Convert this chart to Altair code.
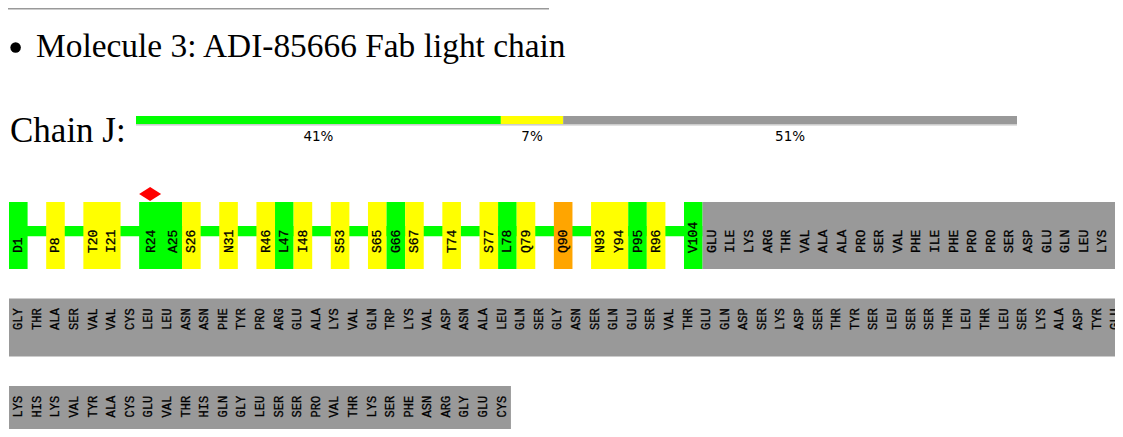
import altair as alt
import pandas as pd

# ---------------- data ----------------
MOLECULE_TITLE = "Molecule 3: ADI-85666 Fab light chain"
CHAIN_LABEL = "Chain J:"

bar_classes = ["good", "fair", "unmodelled"]
bar_values = [41, 7, 51]
bar_labels = ["41%", "7%", "51%"]

# row 1 of the residue plot ("" = gap in the displayed sequence)
row1_res = ["D1", "", "P8", "", "T20", "I21", "", "R24", "A25", "S26", "", "N31", "",
            "R46", "L47", "I48", "", "S53", "", "S65", "G66", "S67", "", "T74", "",
            "S77", "L78", "Q79", "", "Q90", "", "N93", "Y94", "P95", "R96", "", "V104",
            "GLU", "ILE", "LYS", "ARG", "THR", "VAL", "ALA", "ALA", "PRO", "SER", "VAL",
            "PHE", "ILE", "PHE", "PRO", "PRO", "SER", "ASP", "GLU", "GLN", "LEU", "LYS", "SER"]
row1_cls = ["g", "", "y", "", "y", "y", "", "g", "g", "y", "", "y", "",
            "y", "g", "y", "", "y", "", "y", "g", "y", "", "y", "",
            "y", "g", "y", "", "o", "", "y", "y", "g", "y", "", "g"] + ["u"] * 23

row2_res = ["GLY", "THR", "ALA", "SER", "VAL", "VAL", "CYS", "LEU", "LEU", "ASN",
            "ASN", "PHE", "TYR", "PRO", "ARG", "GLU", "ALA", "LYS", "VAL", "GLN",
            "TRP", "LYS", "VAL", "ASP", "ASN", "ALA", "LEU", "GLN", "SER", "GLY",
            "ASN", "SER", "GLN", "GLU", "SER", "VAL", "THR", "GLU", "GLN", "ASP",
            "SER", "LYS", "ASP", "SER", "THR", "TYR", "SER", "LEU", "SER", "SER",
            "THR", "LEU", "THR", "LEU", "SER", "LYS", "ALA", "ASP", "TYR", "GLU"]
row3_res = ["LYS", "HIS", "LYS", "VAL", "TYR", "ALA", "CYS", "GLU", "VAL", "THR",
            "HIS", "GLN", "GLY", "LEU", "SER", "SER", "PRO", "VAL", "THR", "LYS",
            "SER", "PHE", "ASN", "ARG", "GLY", "GLU", "CYS"]

outlier_markers = ["R24"]

CLASS_NAMES = {"g": "good", "y": "fair", "o": "poor", "u": "unmodelled"}
COLOR_DOMAIN = ["good", "fair", "poor", "unmodelled"]
COLOR_RANGE = ["#00ff00", "#ffff00", "#ffa500", "#999999"]

# ---------------- layout ----------------
W, H = 1107, 421
SLOT_PX = 18.59
X0 = 1.0
ROW_PX = 87.5
ROW0_BOTTOM = 261.0
MARKER_EXTRA = 0.31
SERIF = "Liberation Serif"

rows = [(row1_res, row1_cls),
        (row2_res, ["u"] * len(row2_res)),
        (row3_res, ["u"] * len(row3_res))]

labels, runs = [], []
backbone = []
markers = []
for r, (names, classes) in enumerate(rows):
    top = r - (67 if r == 0 else 58) / ROW_PX
    lab_y = r - (16 if r == 0 else 26.5) / ROW_PX
    fs = 13 if r == 0 else 12
    pos = 0.0
    row_cells = []
    for name, c in zip(names, classes):
        w = 1.0 + (MARKER_EXTRA if name in outlier_markers else 0.0)
        if name:
            row_cells.append(dict(x0=pos, x1=pos + w, cls=CLASS_NAMES[c]))
            labels.append(dict(x=pos + w / 2, y=lab_y, res=name, fs=fs))
            if name in outlier_markers:
                markers.append(dict(x=pos + 11 / SLOT_PX, y=r - 75 / ROW_PX))
        pos += w
    # merge contiguous same-class cells
    for c in row_cells:
        if runs and runs[-1]["row"] == r and runs[-1]["cls"] == c["cls"] and abs(runs[-1]["x1"] - c["x0"]) < 1e-9:
            runs[-1]["x1"] = c["x1"]
        else:
            runs.append(dict(row=r, x0=c["x0"], x1=c["x1"], cls=c["cls"], top=top, bot=r))
    modeled = [c for c in row_cells if c["cls"] != "unmodelled"]
    if modeled:
        backbone.append(dict(x0=modeled[0]["x0"], x1=modeled[-1]["x1"],
                             top=r - 43 / ROW_PX, bot=r - 32.7 / ROW_PX))

runs_df = pd.DataFrame(runs)
labels_df = pd.DataFrame(labels)
backbone_df = pd.DataFrame(backbone)
markers_df = pd.DataFrame(markers)

xs = alt.Scale(domain=[-X0 / SLOT_PX, (W - X0) / SLOT_PX], range=[0, W], nice=False, zero=False)
ys = alt.Scale(domain=[-ROW0_BOTTOM / ROW_PX, (H - ROW0_BOTTOM) / ROW_PX], range=[0, H], nice=False, zero=False)
cs = alt.Scale(domain=COLOR_DOMAIN, range=COLOR_RANGE)

backbone_layer = alt.Chart(backbone_df).mark_rect(color="#00ff00").encode(
    x=alt.X("x0:Q", scale=xs, axis=None), x2="x1:Q",
    y=alt.Y("top:Q", scale=ys, axis=None), y2="bot:Q")

cells_layer = alt.Chart(runs_df).mark_rect().encode(
    x=alt.X("x0:Q", scale=xs, axis=None), x2="x1:Q",
    y=alt.Y("top:Q", scale=ys, axis=None), y2="bot:Q",
    color=alt.Color("cls:N", scale=cs, legend=None))

labels_layer = alt.Chart(labels_df).mark_text(
    angle=270, align="left", baseline="middle", font="Liberation Mono", color="black",
    stroke="black", strokeWidth=0.3).encode(
    x=alt.X("x:Q", scale=xs, axis=None),
    y=alt.Y("y:Q", scale=ys, axis=None),
    text="res:N",
    size=alt.Size("fs:Q", scale=None))

marker_layer = alt.Chart(markers_df).mark_point(
    shape="M-1,0L0,-0.64L1,0L0,0.64Z", filled=True, color="#ff0000", opacity=1,
    size=484, strokeWidth=0).encode(
    x=alt.X("x:Q", scale=xs, axis=None),
    y=alt.Y("y:Q", scale=ys, axis=None))

# chain summary bar
starts, acc = [], 0
for v in bar_values:
    starts.append(acc)
    acc += v
bar_df = pd.DataFrame(dict(cls=bar_classes, start=starts,
                           end=[s + v for s, v in zip(starts, bar_values)],
                           label=bar_labels))
bar_df["mid"] = (bar_df["start"] + bar_df["end"]) / 2
bs = alt.Scale(domain=[0, sum(bar_values)], range=[128, 1009], nice=False, zero=False)

bar_layer = alt.Chart(bar_df).mark_rect().encode(
    x=alt.X("start:Q", scale=bs, axis=None), x2="end:Q",
    y=alt.value(108), y2=alt.value(116),
    color=alt.Color("cls:N", scale=cs, legend=None))
bar_line = alt.Chart(bar_df).mark_rule(color="#cccccc", strokeWidth=1.2).encode(
    x=alt.value(128), x2=alt.value(1009), y=alt.value(116.6))
bar_text = alt.Chart(bar_df).mark_text(
    font="DejaVu Sans", fontSize=13.5, align="center", baseline="alphabetic", color="black").encode(
    x=alt.X("mid:Q", scale=bs, axis=None), y=alt.value(132.5), text="label:N")

head_df = pd.DataFrame(dict(title=[MOLECULE_TITLE], chain=[CHAIN_LABEL]))
top_rule = alt.Chart(head_df).mark_rule(color="#999999", strokeWidth=1.5).encode(
    x=alt.value(0), x2=alt.value(541), y=alt.value(0.75))
bullet = alt.Chart(head_df).mark_point(shape="circle", filled=True, color="black",
                                       opacity=1, size=110, strokeWidth=0).encode(
    x=alt.value(7.6), y=alt.value(39.5))
title_text = alt.Chart(head_df).mark_text(
    font=SERIF, fontSize=33.4, align="left", baseline="alphabetic", color="black").encode(
    x=alt.value(28), y=alt.value(49), text="title:N")
chain_text = alt.Chart(head_df).mark_text(
    font=SERIF, fontSize=35, align="left", baseline="alphabetic", color="black").encode(
    x=alt.value(2), y=alt.value(134), text="chain:N")

chart = alt.layer(
    top_rule, bullet, title_text, chain_text,
    bar_layer, bar_line, bar_text,
    backbone_layer, cells_layer, labels_layer, marker_layer
).resolve_scale(x="independent", y="independent", color="independent").properties(
    width=W, height=H, padding=0, background="white",
    autosize=alt.AutoSizeParams(type="none")
).configure_view(stroke=None)

chart.save("out.html", embed_options={"renderer": "svg", "actions": False})
